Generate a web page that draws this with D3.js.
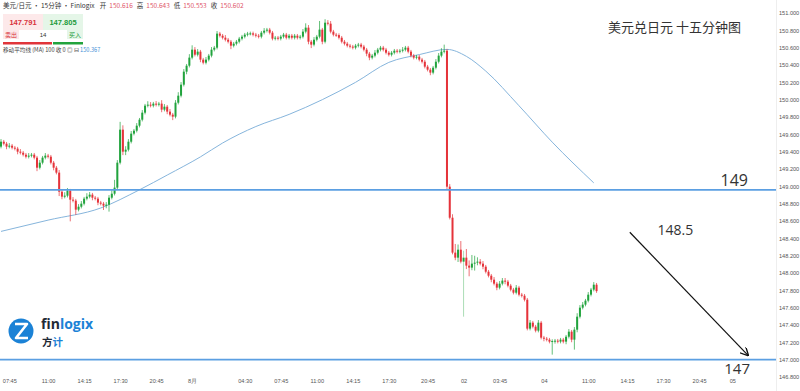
<!DOCTYPE html>
<html><head><meta charset="utf-8">
<script src="https://cdn.jsdelivr.net/npm/d3@7"></script>
<style>body{margin:0;background:#fff;} svg{display:block;font-family:"Liberation Sans",Arial,sans-serif;}</style>
</head><body><svg id="c" width="800" height="391"></svg>
<script>
// ---------- DATA ----------
const firstOpen = 149.458;
const closes = [
149.515,149.492,149.458,149.469,149.446,149.435,149.400,149.388,149.365,149.342,149.354,149.365,
149.331,149.215,149.273,149.331,149.354,149.342,149.273,149.215,149.158,148.938,148.881,148.892,
148.950,148.846,148.835,148.731,148.765,148.800,148.858,148.881,148.904,148.869,148.858,148.812,
148.800,148.777,148.788,148.869,148.915,148.985,149.273,149.654,149.400,149.423,149.515,149.608,
149.642,149.700,149.769,149.850,149.931,149.942,149.931,149.954,149.942,149.954,149.885,149.919,
149.862,149.827,149.804,149.965,150.046,150.173,150.323,150.392,150.485,150.577,150.519,150.554,
150.462,150.427,150.462,150.508,150.577,150.600,150.762,150.738,150.715,150.692,150.669,150.623,
150.646,150.669,150.704,150.727,150.750,150.762,150.765,150.750,150.738,150.727,150.773,150.796,
150.808,150.773,150.704,150.715,150.704,150.727,150.750,150.715,150.738,150.715,150.738,150.715,
150.727,150.785,150.831,150.669,150.635,150.692,150.727,150.808,150.669,150.888,150.877,150.785,
150.750,150.745,150.715,150.669,150.646,150.623,150.612,150.600,150.623,150.635,150.612,150.577,
150.531,150.485,150.508,150.542,150.577,150.600,150.577,150.542,150.519,150.542,150.565,150.554,
150.565,150.577,150.600,150.554,150.508,150.485,150.496,150.462,150.438,150.381,150.346,150.312,
150.369,150.438,150.508,150.554,150.565,148.996,148.638,148.235,148.177,148.269,148.131,148.177,
148.085,148.062,148.108,148.119,148.131,148.108,148.073,148.015,147.969,147.923,147.877,147.831,
147.877,147.912,147.900,147.854,147.808,147.773,147.831,147.750,147.738,147.692,147.358,147.427,
147.381,147.335,147.427,147.254,147.242,147.231,147.208,147.215,147.219,147.208,147.231,147.208,
147.265,147.323,147.231,147.346,147.496,147.600,147.635,147.681,147.750,147.808,147.865,147.791
];
const upperWicks = [
0.03,0.02,0.02,0.03,0.02,0.02,0.02,0.03,0.02,0.02,0.03,0.02,
0.02,0.02,0.03,0.02,0.03,0.02,0.02,0.02,0.02,0.03,0.02,0.04,
0.03,0.02,0.03,0.02,0.03,0.03,0.02,0.04,0.03,0.02,0.02,0.02,
0.02,0.02,0.03,0.03,0.04,0.09,0.03,0.09,0.05,0.04,0.03,0.03,
0.02,0.03,0.02,0.03,0.02,0.04,0.03,0.02,0.03,0.02,0.04,0.03,
0.02,0.03,0.02,0.03,0.04,0.03,0.03,0.02,0.04,0.05,0.03,0.03,
0.02,0.02,0.03,0.02,0.03,0.02,0.03,0.02,0.02,0.03,0.02,0.02,
0.02,0.02,0.02,0.02,0.02,0.02,0.02,0.02,0.02,0.02,0.02,0.03,
0.02,0.02,0.02,0.02,0.02,0.02,0.02,0.02,0.02,0.02,0.02,0.02,
0.02,0.03,0.05,0.03,0.02,0.03,0.02,0.10,0.02,0.04,0.03,0.03,
0.02,0.02,0.02,0.02,0.02,0.02,0.02,0.02,0.02,0.02,0.02,0.02,
0.02,0.02,0.02,0.03,0.02,0.02,0.02,0.02,0.02,0.02,0.02,0.02,
0.02,0.03,0.02,0.02,0.02,0.02,0.02,0.02,0.02,0.02,0.02,0.02,
0.02,0.03,0.03,0.04,0.07,0.02,0.03,0.04,0.10,0.06,0.10,0.08,
0.10,0.06,0.10,0.08,0.05,0.03,0.03,0.02,0.02,0.02,0.03,0.02,
0.03,0.03,0.03,0.02,0.02,0.02,0.03,0.02,0.02,0.02,0.02,0.03,
0.02,0.02,0.03,0.02,0.02,0.02,0.02,0.02,0.02,0.02,0.02,0.02,
0.02,0.03,0.02,0.03,0.04,0.03,0.03,0.02,0.03,0.02,0.03,0.02
];
const lowerWicks = [
0.02,0.02,0.03,0.02,0.02,0.02,0.03,0.02,0.02,0.02,0.02,0.02,
0.02,0.04,0.02,0.02,0.02,0.02,0.02,0.03,0.02,0.05,0.03,0.02,
0.02,0.25,0.02,0.06,0.02,0.02,0.02,0.02,0.02,0.03,0.02,0.03,
0.02,0.05,0.03,0.08,0.02,0.02,0.02,0.02,0.04,0.04,0.02,0.02,
0.02,0.02,0.02,0.02,0.02,0.02,0.02,0.02,0.02,0.02,0.03,0.02,
0.03,0.02,0.04,0.02,0.02,0.02,0.02,0.03,0.02,0.02,0.02,0.02,
0.03,0.02,0.02,0.02,0.02,0.02,0.02,0.02,0.02,0.02,0.02,0.04,
0.02,0.02,0.02,0.02,0.02,0.02,0.02,0.02,0.02,0.02,0.02,0.02,
0.02,0.02,0.02,0.02,0.02,0.02,0.02,0.02,0.02,0.02,0.02,0.02,
0.02,0.02,0.02,0.03,0.04,0.02,0.02,0.02,0.03,0.02,0.02,0.02,
0.02,0.02,0.02,0.02,0.02,0.02,0.02,0.02,0.02,0.02,0.02,0.02,
0.03,0.03,0.02,0.02,0.02,0.02,0.02,0.02,0.02,0.02,0.02,0.02,
0.02,0.02,0.02,0.02,0.02,0.02,0.02,0.02,0.02,0.02,0.02,0.03,
0.02,0.02,0.02,0.02,0.02,0.03,0.02,0.02,0.03,0.05,0.02,0.635,
0.04,0.10,0.03,0.08,0.03,0.02,0.03,0.02,0.02,0.03,0.02,0.03,
0.02,0.02,0.03,0.02,0.02,0.02,0.02,0.02,0.02,0.02,0.02,0.02,
0.02,0.02,0.02,0.02,0.03,0.02,0.02,0.15,0.03,0.02,0.02,0.02,
0.03,0.02,0.03,0.115,0.03,0.02,0.02,0.02,0.02,0.02,0.02,0.02
];
const maPoints = [
[0,148.48],[17,148.61],[36,148.75],[50,148.96],[60,149.13],[72,149.34],[80,149.50],
[92,149.69],[104,149.83],[116,150.00],[128,150.20],[140,150.43],[151,150.52],[161,150.58],
[168,150.50],[175,150.33],[187,149.93],[199,149.51],[214,149.04]
];
const xTickIndex  = [3,17,30,43,56,69,88,101,114,127,140,154,167,180,196,212,226,239,252,264];
const xTickLabels = ["07:45","11:00","14:15","17:30","20:45","8月","04:30","07:45","11:00","14:15",
                     "17:30","20:45","02","03:45","04","11:00","14:15","17:30","20:45","05"];
const yTicks = [146.8,147.0,147.2,147.4,147.6,147.8,148.0,148.2,148.4,148.6,148.8,
                149.0,149.2,149.4,149.6,149.8,150.0,150.2,150.4,150.6,150.8,151.0];
const levelValues = [148.96, 147.0];
const levelLabels = ["149", "147"];
const midLabel = {text:"148.5", index:237, price:148.5};
const arrowFrom = [227, 148.47], arrowTo = [269.7, 147.05];
const headerOHLC = [["开","150.616"],["高","150.643"],["低","150.553"],["收","150.602"]];
const bidAsk = ["147.791","147.805"];
const maValueLabel = "150.367";

// ---------- CHART ----------
const svg = d3.select("#c");
const RED = "#e5333a", GREEN = "#21a33d";
const x = d3.scaleLinear().domain([0, 280]).range([1, 776.6]);
const y = d3.scaleLinear().domain([146.8, 151.0]).range([377, 13]);

svg.append("defs").append("marker").attr("id","ah").attr("viewBox","0 0 10 10")
  .attr("refX",9).attr("refY",5).attr("markerWidth",7).attr("markerHeight",7).attr("orient","auto")
  .append("path").attr("d","M0,0 L10,5 L0,10").attr("fill","none").attr("stroke","#111").attr("stroke-width",1.6);

// axis separator
svg.append("line").attr("x1",776.5).attr("x2",776.5).attr("y1",0).attr("y2",391).attr("stroke","#eeeeee");

// right axis
const yAxis = d3.axisRight(y).tickValues(yTicks).tickSize(0).tickFormat(d3.format(".3f"));
const ya = svg.append("g").attr("transform","translate(776,0)").call(yAxis);
ya.select(".domain").remove();
ya.selectAll("text").attr("x",3).attr("fill","#555").style("font-size","5.6px");

// bottom axis
const xAxis = d3.axisBottom(x).tickValues(xTickIndex).tickSize(0).tickFormat((d,i)=>xTickLabels[i]);
const xa = svg.append("g").attr("transform","translate(0,380.5)").call(xAxis);
xa.select(".domain").remove();
xa.selectAll("text").attr("y",0).attr("dy","0.5em").attr("fill","#555").style("font-size","5.6px");

// MA line
svg.append("path").datum(maPoints)
  .attr("d", d3.line().x(d=>x(d[0])).y(d=>y(d[1])).curve(d3.curveMonotoneX))
  .attr("fill","none").attr("stroke","#86b5dc").attr("stroke-width",1);

// candles
const candles = closes.map((c,i)=>{
  const o = i===0 ? firstOpen : closes[i-1];
  return {i, o, c, h: Math.max(o,c)+upperWicks[i], l: Math.min(o,c)-lowerWicks[i]};
});
const cg = svg.append("g");
cg.selectAll("line.w").data(candles).join("line")
  .attr("x1",d=>x(d.i)).attr("x2",d=>x(d.i)).attr("y1",d=>y(d.h)).attr("y2",d=>y(d.l))
  .attr("stroke",d=>d.c>=d.o?GREEN:RED).attr("stroke-width",0.7)
  .attr("stroke-opacity",d=>d.i===167?0.55:1);
cg.selectAll("rect.b").data(candles).join("rect")
  .attr("x",d=>x(d.i)-1).attr("width",2)
  .attr("y",d=>y(Math.max(d.o,d.c)))
  .attr("height",d=>Math.max(1,Math.abs(y(d.o)-y(d.c))))
  .attr("fill",d=>d.c>=d.o?GREEN:RED);

// level lines
svg.selectAll("line.lv").data(levelValues).join("line")
  .attr("x1",0).attr("x2",776).attr("y1",d=>y(d)).attr("y2",d=>y(d))
  .attr("stroke","#5b9fe2").attr("stroke-width",1.8);

// annotations
svg.append("text").attr("x",748).attr("y",y(levelValues[0])-4).attr("text-anchor","end")
  .attr("fill","#333").style("font-size","16px").style("font-family","'Open Sans',sans-serif").text(levelLabels[0]);
svg.append("text").attr("x",750).attr("y",y(levelValues[1])+14.5).attr("text-anchor","end")
  .attr("fill","#333").style("font-size","15px").style("font-family","'Open Sans',sans-serif").text(levelLabels[1]);
svg.append("text").attr("x",x(midLabel.index)).attr("y",y(midLabel.price)+5)
  .attr("fill","#333").style("font-size","14px").style("font-family","'Open Sans',sans-serif").text(midLabel.text);
svg.append("line").attr("x1",x(arrowFrom[0])).attr("y1",y(arrowFrom[1]))
  .attr("x2",x(arrowTo[0])).attr("y2",y(arrowTo[1]))
  .attr("stroke","#111").attr("stroke-width",1.2).attr("marker-end","url(#ah)");

// title
svg.append("text").attr("x",608).attr("y",32).attr("fill","#333")
  .style("font-family","'Noto Sans CJK SC',sans-serif").style("font-size","13px").text("美元兑日元 十五分钟图");

// header
const hdr = svg.append("text").attr("x",3).attr("y",8).style("font-size","6.5px")
  .style("font-family","'Noto Sans CJK SC',sans-serif").attr("fill","#333");
hdr.append("tspan").text("美元/日元 · 15分钟 · Finlogix ");
headerOHLC.forEach(([k,v])=>{
  hdr.append("tspan").attr("dx",4).text(k);
  hdr.append("tspan").attr("dx",3).attr("fill","#e0566b").text(v);
});
svg.append("rect").attr("x",3).attr("y",14).attr("width",40).attr("height",16).attr("fill","#fde9ea");
svg.append("rect").attr("x",43).attr("y",14).attr("width",40).attr("height",16).attr("fill","#e5f6e8");
svg.append("text").attr("x",23).attr("y",25).attr("text-anchor","middle").attr("fill","#d8323c")
  .style("font-size","7.5px").style("font-weight","bold").text(bidAsk[0]);
svg.append("text").attr("x",63).attr("y",25).attr("text-anchor","middle").attr("fill","#239b3c")
  .style("font-size","7.5px").style("font-weight","bold").text(bidAsk[1]);
svg.append("rect").attr("x",3).attr("y",30).attr("width",16).attr("height",9).attr("fill","#fde9ea");
svg.append("rect").attr("x",67).attr("y",30).attr("width",16).attr("height",9).attr("fill","#e5f6e8");
const cjk = "'Noto Sans CJK SC',sans-serif";
svg.append("text").attr("x",5).attr("y",37).attr("fill","#d8323c").style("font-size","6px").style("font-family",cjk).text("卖出");
svg.append("text").attr("x",43).attr("y",37).attr("text-anchor","middle").attr("fill","#333").style("font-size","6px").text("14");
svg.append("text").attr("x",69).attr("y",37).attr("fill","#239b3c").style("font-size","6px").style("font-family",cjk).text("买入");
svg.append("rect").attr("x",3).attr("y",42).attr("width",49).attr("height",2.5).attr("fill","#e0353a");
svg.append("rect").attr("x",53).attr("y",42).attr("width",30).attr("height",2.5).attr("fill","#22a33d");
const mat = svg.append("text").attr("x",3).attr("y",52).style("font-size","5.6px")
  .style("font-family",cjk).attr("fill","#444");
mat.append("tspan").text("移动平均线 (MA) 100 收 0 ◎ ⊟ ");
mat.append("tspan").attr("fill","#3f8fd6").text(maValueLabel);

// logo
const lg = svg.append("g");
lg.append("circle").attr("cx",21).attr("cy",331).attr("r",12.5).attr("fill","#1b82d6");
lg.append("path").attr("d","M15,324 L27,324 L16,338 L28,338").attr("fill","none")
  .attr("stroke","#fff").attr("stroke-width",2.6).attr("stroke-linejoin","round");
const lt = lg.append("text").attr("x",41).attr("y",329).style("font-size","14px").style("font-weight","bold")
  .style("font-family","'Open Sans',Arial,sans-serif");
lt.append("tspan").attr("fill","#1f2a36").text("fin");
lt.append("tspan").attr("fill","#1b82d6").text("logix");
const lc = lg.append("text").attr("x",42).attr("y",346).style("font-size","10.5px").style("font-weight","bold")
  .style("font-family",cjk);
lc.append("tspan").attr("fill","#1f2a36").text("方");
lc.append("tspan").attr("fill","#1b82d6").text("计");
</script></body></html>
